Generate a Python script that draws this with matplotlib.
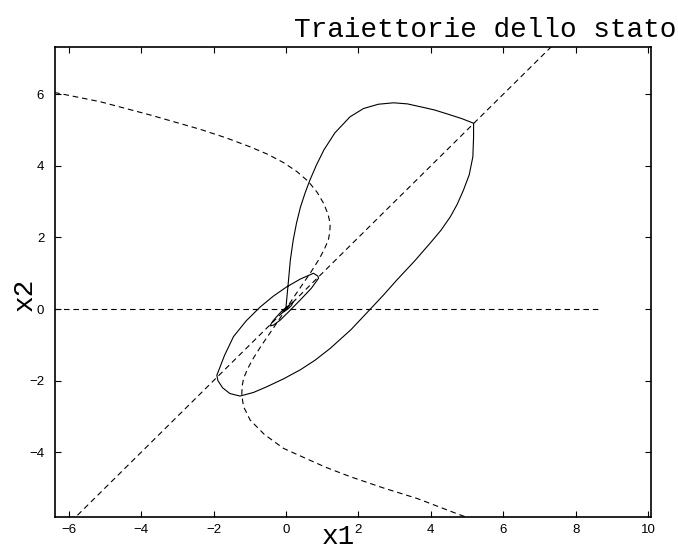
import matplotlib
matplotlib.use('Agg')
import matplotlib.pyplot as plt

# axis ranges and ticks
X_LIM = (-6.37, 10.08)
Y_LIM = (-5.80, 7.31)
X_TICKS = [-6, -4, -2, 0, 2, 4, 6, 8, 10]
Y_TICKS = [-4, -2, 0, 2, 4, 6]

# dashed reference lines
horiz_x = [-6.4, 8.68]
horiz_y = [0.0, 0.0]
diag_x = [-6.5, 8.0]
diag_y = [-6.5, 8.0]

# dashed curved line (upper branch, origin, lower branch)
curve_x = [-6.40, -5.13, -3.75, -2.37, -1.65, -0.99, -0.50, -0.07, 0.30, 0.62, 0.86, 1.04,
           1.16, 1.22, 1.21, 1.17, 1.05, 0.90, 0.68, 0.45, 0.22, 0.0,
           -0.22, -0.45, -0.68, -0.90, -1.05, -1.17, -1.21, -1.22, -1.20, -1.17, -0.99,
           -0.60, -0.07, 0.50, 1.10, 1.77, 2.70, 3.62, 4.81, 5.30]
curve_y = [6.05, 5.79, 5.42, 5.02, 4.78, 4.53, 4.32, 4.09, 3.84, 3.56, 3.26, 2.95,
           2.65, 2.39, 2.15, 1.93, 1.65, 1.37, 1.02, 0.68, 0.34, 0.0,
           -0.34, -0.68, -1.02, -1.37, -1.65, -1.93, -2.15, -2.36, -2.55, -2.73, -3.10,
           -3.50, -3.89, -4.15, -4.42, -4.68, -5.00, -5.29, -5.75, -5.92]

# state trajectory (solid)
traj_x = [0.0, 0.06, 0.12, 0.20, 0.29, 0.40, 0.53, 0.66, 0.84, 1.05, 1.35, 1.77, 2.14, 2.55,
          2.97, 3.35, 3.71, 4.10, 4.45, 4.85, 5.18,
          5.18, 5.16, 5.06, 4.90, 4.73, 4.54, 4.28, 3.98, 3.55, 3.06, 2.70, 2.33, 1.80, 1.22,
          0.80, 0.39, -0.07, -0.53, -0.90, -1.27, -1.55, -1.75, -1.88, -1.91,
          -1.70, -1.45, -1.10, -0.71, -0.35, 0.02, 0.40, 0.76, 0.88, 0.90,
          0.70, 0.39, 0.10, -0.16, -0.35, -0.44, -0.38, -0.30, -0.11, 0.10, 0.20, 0.15,
          0.05, -0.10, -0.05, 0.05, 0.0]
traj_y = [0.06, 0.70, 1.37, 1.93, 2.40, 2.85, 3.25, 3.60, 4.02, 4.45, 4.92, 5.37, 5.60, 5.72,
          5.76, 5.73, 5.65, 5.56, 5.45, 5.32, 5.19,
          4.80, 4.25, 3.75, 3.32, 2.93, 2.58, 2.20, 1.84, 1.34, 0.81, 0.40, 0.0, -0.57, -1.10,
          -1.43, -1.70, -1.95, -2.17, -2.33, -2.43, -2.36, -2.20, -2.00, -1.85,
          -1.30, -0.77, -0.33, 0.06, 0.36, 0.62, 0.84, 1.00, 0.92, 0.86,
          0.58, 0.25, -0.05, -0.31, -0.45, -0.47, -0.36, -0.26, -0.05, 0.12, 0.20, 0.10,
          0.0, -0.10, -0.03, 0.05, 0.0]

fig = plt.figure(figsize=(6.78, 5.5), dpi=100)
ax = fig.add_axes([0.0816, 0.0605, 0.8786, 0.8535])

dash = (0, (5, 3.5))
ax.plot(horiz_x, horiz_y, color='black', lw=0.8, linestyle=dash)
ax.plot(diag_x, diag_y, color='black', lw=0.8, linestyle=dash)
ax.plot(curve_x, curve_y, color='black', lw=0.8, linestyle=dash)
ax.plot(traj_x, traj_y, color='black', lw=0.8)

ax.set_xlim(*X_LIM)
ax.set_ylim(*Y_LIM)
ax.set_xticks(X_TICKS)
ax.set_yticks(Y_TICKS)
ax.set_xticklabels([str(t).replace('-', '\u2212') for t in X_TICKS])
ax.set_yticklabels([str(t).replace('-', '\u2212') for t in Y_TICKS])
ax.tick_params(direction='in', top=True, right=True, length=4, width=0.8,
               labelsize=9.5, colors='black')
ax.tick_params(axis='x', pad=5)
ax.tick_params(axis='y', pad=8)
for lbl in ax.get_xticklabels() + ax.get_yticklabels():
    lbl.set_family('Liberation Sans')
for sp in ax.spines.values():
    sp.set_linewidth(1.2)

mono = ['Liberation Mono', 'DejaVu Sans Mono']
fig.text(0.998, 0.945, 'Traiettorie dello stato', ha='right', va='center',
         family=mono, fontsize=20)
fig.text(0.499, 0.024, 'x1', ha='center', va='center', family=mono, fontsize=20)
fig.text(0.036, 0.464, 'x2', ha='center', va='center', rotation=90,
         family=mono, fontsize=20)

fig.savefig('out.png', dpi=100)
